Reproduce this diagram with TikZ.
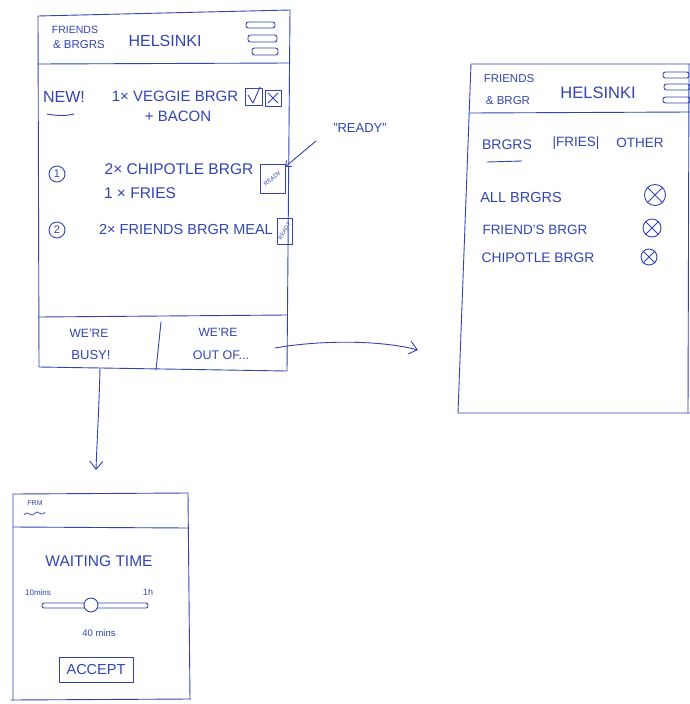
\documentclass[tikz,border=0pt]{standalone}
\usepackage{fontspec}
\setmainfont{Liberation Sans}
\usetikzlibrary{arrows.meta}
\definecolor{inkc}{RGB}{50,68,178}
\newcommand{\fsz}[1]{\fontsize{#1}{#1}\selectfont}
\tikzset{
  ink/.style={draw=inkc, line width=0.9pt, line join=round, line cap=round},
  txt/.style={text=inkc, inner sep=0pt, anchor=center},
  bar/.style={ink, rounded corners=2.5pt},
  arr/.style={ink, -{Straight Barb[length=8pt,width=13pt,line width=0.9pt]}},
}
\begin{document}
\begin{tikzpicture}[x=1pt,y=-1pt]
\useasboundingbox (0,0) rectangle (690,704);
\fill[white] (0,0) rectangle (690,704);

% ---------------- Screen 1 ----------------
\draw[ink] (38,16) -- (290,10) -- (287,371) -- (39,367) -- cycle;
\draw[ink] (38,64) -- (290,63);
\draw[ink] (39,317) -- (287,315);
\draw[ink] (161,322) -- (156,370);
\draw[bar] (246,22) rectangle (275,28);
\draw[bar] (248,35) rectangle (277,42);
\draw[bar] (252,48) rectangle (278,55);
\node[txt, font=\fsz{10.5}] (f1) at (75,30) {FRIENDS};
\node[txt, font=\fsz{11.5}] (b1) at (79,45) {\& BRGRS};
\node[txt, font=\fsz{16}] (h1) at (165,41) {HELSINKI};

\node[txt, font=\fsz{16}] (new) at (64,97) {NEW!};
\draw[ink] (47,114) .. controls (58,116) and (66,116) .. (74,114);
\node[txt, font=\fsz{15}] (veg) at (175,96) {1× VEGGIE BRGR};
\node[txt, font=\fsz{15}] (bac) at (178,116) {+ BACON};
% checkboxes
\draw[ink] (245,88) rectangle (262,105);
\draw[ink] (248,95) -- (253,103) -- (260,87);
\draw[ink] (265,90) rectangle (281,106);
\draw[ink] (268,93) -- (278,103);
\draw[ink] (278,93) -- (268,103);

\node[ink, circle, minimum size=16pt, inner sep=0pt, text=inkc, font=\fsz{11}] (n1) at (57,174) {1};
\node[txt, font=\fsz{15.5}] (o1a) at (179,169) {2× CHIPOTLE BRGR};
\node[txt, font=\fsz{15.5}] (o1b) at (140,193) {1 × FRIES};
\draw[ink] (260,164) rectangle (285,193);
\coordinate (rb1) at (285,167);
\node[txt, font=\fsz{6}, rotate=40] (rt1) at (272.5,178.5) {READY};

\node[ink, circle, minimum size=16pt, inner sep=0pt, text=inkc, font=\fsz{11}] (n2) at (57,230) {2};
\node[txt, font=\fsz{14.5}] (o2) at (186,230) {2× FRIENDS BRGR MEAL};
\draw[ink] (277,218) rectangle (292,244);
\node[txt, font=\fsz{5.5}, rotate=60] (rt2) at (284.5,231) {READY};

\node[txt, font=\fsz{13}] (rdy) at (360,128) {"READY"};
\coordinate (rdyS) at (316,141);
\draw[ink, -{Straight Barb[length=5pt,width=8pt,line width=0.8pt]}] (rdyS) -- (rb1);

\node[txt, font=\fsz{12}] (w1) at (89,333) {WE'RE};
\node[txt, font=\fsz{13}] (busy) at (91,355) {BUSY!};
\node[txt, font=\fsz{12}] (w2) at (218,332) {WE'RE};
\node[txt, font=\fsz{12.5}] (out) at (221,355) {OUT OF...};

% arrows
\coordinate (downS) at (100,368);
\coordinate (downE) at (96,470);
\draw[arr] (downS) .. controls (99,410) and (97,440) .. (downE);
\coordinate (rightS) at (275,348);
\coordinate (rightE) at (418,350);
\draw[arr] (rightS) .. controls (320,340) and (380,340) .. (rightE);

% ---------------- Screen 2 ----------------
\draw[ink] (690,64) -- (471,64) -- (458,413) -- (690,413);
\draw[ink] (689,64) -- (688,413);
\draw[ink] (470,113) -- (690,112);
\draw[bar] (663,72) rectangle (689,78);
\draw[bar] (664,84) rectangle (690,90);
\draw[bar] (663,97) rectangle (690,103);
\node[txt, font=\fsz{11.5}] (f2) at (509,79) {FRIENDS};
\node[txt, font=\fsz{11.5}] (b2) at (508,101) {\& BRGR};
\node[txt, font=\fsz{16.5}] (h2) at (598,93) {HELSINKI};

\node[txt, font=\fsz{14}] (tb) at (507,145) {BRGRS};
\draw[ink] (487,162) -- (522,161);
\node[txt, font=\fsz{13.5}] (tf) at (576,143) {|FRIES|};
\node[txt, font=\fsz{13.5}] (to) at (640,143) {OTHER};

\node[txt, font=\fsz{14.5}] (l1) at (521,198) {ALL BRGRS};
\node[txt, font=\fsz{13.5}] (l2) at (535,230) {FRIEND'S BRGR};
\node[txt, font=\fsz{13.8}] (l3) at (538,258) {CHIPOTLE BRGR};
\foreach \nm/\cx/\cy/\r in {x1/655/195/10.5, x2/652/228/9, x3/649/257/8}{
  \node[ink, circle, minimum size=2*\r pt, inner sep=0pt] (\nm) at (\cx,\cy) {};
  \draw[ink] (\nm.north west) -- (\nm.south east);
  \draw[ink] (\nm.north east) -- (\nm.south west);
}

% ---------------- Screen 3 ----------------
\draw[ink] (13,700) -- (13,494) -- (188,493) -- (190,700);
\draw[ink] (11,700) -- (190,699);
\draw[ink] (13,527) -- (188,528);
\node[txt, font=\fsz{7}] (frm) at (35,503) {FRM};
\draw[ink, line width=0.7pt] (24,515) .. controls (28,509) and (31,519) .. (35,513) .. controls (38,509) and (41,518) .. (45,512);

\node[txt, font=\fsz{15.5}] (wt) at (99,561) {WAITING TIME};
\node[txt, font=\fsz{8}] (mn) at (38,593) {10mins};
\node[txt, font=\fsz{9}] (hr) at (148,592) {1h};
\draw[ink, rounded corners=2pt] (42,603) rectangle (148,608);
\node[ink, circle, fill=white, minimum size=14pt, inner sep=0pt] (knob) at (91,605) {};
\node[txt, font=\fsz{9.5}] (sel) at (99,633) {40 mins};
\node[ink, minimum width=74pt, minimum height=25pt, inner sep=0pt, text=inkc, font=\fsz{14.5}] (acc) at (96,670) {ACCEPT};
\end{tikzpicture}
\end{document}
